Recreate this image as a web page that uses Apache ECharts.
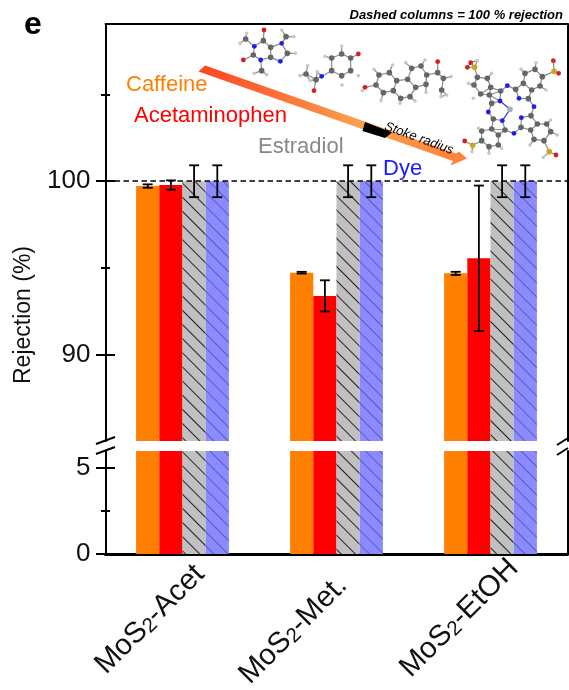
<!DOCTYPE html>
<html><head><meta charset="utf-8">
<script src="https://cdn.jsdelivr.net/npm/echarts@6/dist/echarts.min.js"></script>
<style>html,body{margin:0;padding:0;background:#fff}#c{width:569px;height:690px}</style>
</head><body><div id="c"></div>
<script>
const categories = ['MoS2-Acet', 'MoS2-Met.', 'MoS2-EtOH'];
const caffeine = [99.72, 94.72, 94.68];
const acetaminophen = [99.78, 93.38, 95.55];
const estradiol = [100, 100, 100];
const dye = [100, 100, 100];
const caffeineErr = [0.1, 0.05, 0.09];
const acetaminophenErr = [0.27, 0.9, 4.2];
const estradiolErr = [0.92, 0.92, 0.92];
const dyeErr = [0.92, 0.92, 0.92];
const majorUpper = [90, 100];
const minorUpper = [95, 105];
const majorLower = [0, 5];
const minorLower = [2.5];
const dashedLevel = 100;

const FONT = '"Liberation Sans", Arial, sans-serif';
const BARW = 23.2;
const barDefs = [
  {name: 'Caffeine', values: caffeine, errs: caffeineErr, color: '#ff8000'},
  {name: 'Acetaminophen', values: acetaminophen, errs: acetaminophenErr, color: '#ff0000'},
  {name: 'Estradiol', values: estradiol, errs: estradiolErr, color: '#c0c0c0', decal: '#222222'},
  {name: 'Dye', values: dye, errs: dyeErr, color: '#8b8bff', decal: '#5a5abc'}
];

const grids = [
  {left: 105.5, right: 1.5, top: 24, height: 417, outerBoundsMode: 'none'},
  {left: 105.5, right: 1.5, top: 451, height: 103, outerBoundsMode: 'none'}
];
const xAxes = [
  {gridIndex: 0, type: 'category', data: categories, position: 'top',
   axisLine: {show: true, lineStyle: {color: '#000', width: 2}}, axisTick: {show: false}, axisLabel: {show: false}},
  {gridIndex: 1, type: 'category', data: categories, position: 'bottom',
   axisLine: {show: true, lineStyle: {color: '#000', width: 3}}, axisTick: {show: false},
   axisLabel: {
     rotate: 45, align: 'center', verticalAlign: 'middle', margin: 33, interval: 0,
     formatter: (v, i) => '{n|' + v.replace('2', '}{s|2}{n|') + '}{p' + i + '|}',
     rich: {
       n: {fontFamily: FONT, fontSize: 29.5, color: '#111'},
       s: {fontFamily: FONT, fontSize: 20.5, color: '#111', verticalAlign: 'bottom', lineHeight: 29},
       p0: {width: 92}, p1: {width: 122}, p2: {width: 88}
     }
   }}
];

function yGroup(gridIndex, min, max, major, minor) {
  const base = {gridIndex, type: 'value', min, max, splitLine: {show: false}, position: 'left'};
  const line = {show: true, onZero: false, lineStyle: {color: '#000', width: 2}};
  const tick = (vals, length, inside) => ({show: true, customValues: vals, length, inside, lineStyle: {color: '#000', width: 2}});
  return [
    Object.assign({}, base, {axisLine: line, axisTick: tick(major, 9.5, false),
      axisLabel: {show: true, customValues: major, margin: 15, fontFamily: FONT, fontSize: 26, color: '#111'}}),
    Object.assign({}, base, {axisLine: {show: false}, axisTick: tick(major, 9.5, true), axisLabel: {show: false}}),
    Object.assign({}, base, {axisLine: {show: false}, axisTick: tick(minor, 4.5, false), axisLabel: {show: false}}),
    Object.assign({}, base, {axisLine: {show: false}, axisTick: tick(minor, 4.5, true), axisLabel: {show: false}}),
    Object.assign({}, base, {position: 'right', axisLine: line, axisTick: {show: false}, axisLabel: {show: false}})
  ];
}
const yAxes = yGroup(0, 85, 109.08, majorUpper, minorUpper).concat(yGroup(1, 0, 6, majorLower, minorLower));

const series = [];
[0, 1].forEach(g => {
  barDefs.forEach((d, i) => {
    const s = {
      name: d.name, type: 'bar', xAxisIndex: g, yAxisIndex: g * 5, data: d.values,
      barWidth: BARW, barGap: 0, clip: true,
      itemStyle: {color: d.color}, silent: true
    };
    if (d.decal) s.itemStyle.decal = {symbol: 'rect', symbolSize: 1, dashArrayX: [1, 0], dashArrayY: [0.9, 9], rotation: Math.PI / 4, color: d.decal};
    if (g === 0 && i === 0) s.markLine = {
      silent: true, symbol: 'none', label: {show: false}, animation: false, z: 6,
      lineStyle: {color: '#000', type: [5.5, 3.5], width: 1.5},
      data: [{yAxis: dashedLevel}]
    };
    series.push(s);
  });
});
barDefs.forEach((d, i) => {
  series.push({
    type: 'custom', xAxisIndex: 0, yAxisIndex: 0, silent: true, z: 5, clip: false,
    data: d.values.map((v, k) => [k, v, d.errs[k]]),
    renderItem: (params, api) => {
      const off = (i - 1.5) * BARW;
      const top = api.coord([api.value(0), api.value(1) + api.value(2)]);
      const bot = api.coord([api.value(0), api.value(1) - api.value(2)]);
      const x = top[0] + off, st = {stroke: '#000', lineWidth: 1.8, fill: null};
      const seg = (a, b, c, e) => ({type: 'line', shape: {x1: a, y1: b, x2: c, y2: e}, style: st});
      return {type: 'group', children: [seg(x, top[1], x, bot[1]), seg(x - 5, top[1], x + 5, top[1]), seg(x - 5, bot[1], x + 5, bot[1])]};
    }
  });
});

/* ---- illustration: ball-and-stick molecules ---- */
const ATOM = {C: ['#666666', 2.8], H: ['#c8c8c8', 1.8], N: ['#1e1eee', 2.4], O: ['#d42020', 2.4], S: ['#c8a820', 2.8], Z: ['#a8b0b0', 2.8]};
const caffeineAtoms = 'C100,50 C70,93 C122,70 C122,100 C172,88 C47,45 C95,140 C168,38 N73,67 N92,108 N155,58 N151,112 O102,18 O40,108 H155,18 H192,38 H196,88 H30,58 H50,28 H72,148 H110,152';
const acetaminophenAtoms = 'C305,102 C335,90 C362,102 C362,140 C335,155 C305,140 C258,167 C228,150 N275,157 O252,200 O385,90 H285,97 H335,67 H336,183 H385,155 H233,125 H210,155 H240,170 H262,143';
const estradiolAtoms = 'C63,105 C72,75 C103,68 C125,92 C115,122 C85,128 C158,88 C182,112 C165,140 C137,145 C170,55 C198,48 C215,75 C213,103 C248,68 C265,85 C260,120 O30,112 O248,35 H57,58 H112,45 H78,152 H22,122 H152,38 H210,30 H288,80 H258,140 H275,135 H213,127 H180,153 H135,160';
const dyeAtoms = 'Z150,178 N120,153 N177,145 N184,203 N127,212 N142,107 N222,170 N162,250 N85,186 C122,123 C95,160 C167,118 C205,146 C213,197 C183,232 C135,240 C100,207 C92,112 C82,85 C52,82 C42,105 C62,132 C88,135 C190,100 C195,70 C225,58 C247,80 C240,108 C215,120 C232,222 C260,222 C272,245 C252,272 C222,268 C212,240 C95,237 C65,243 C65,272 C87,290 C115,285 C115,255 S44,52 S282,64 S268,305 S38,286 O32,38 O22,52 O280,32 O296,70 O288,315 O14,273 H52,32 H95,70 H25,100 H40,145 H228,38 H183,57 H258,120 H272,210 H292,255 H250,322 H36,305 H210,285 H125,295 H87,310 H55,235';
function molecule(str, ox, oy, maxBond) {
  const atoms = str.split(' ').map(t => {
    const p = t.slice(1).split(',');
    return {k: t[0], x: ox + p[0] / 3, y: oy + p[1] / 3};
  });
  const out = [];
  atoms.forEach((a, i) => atoms.slice(i + 1).forEach(b => {
    const d = Math.hypot(a.x - b.x, a.y - b.y);
    if (d < ((a.k === 'Z' || b.k === 'Z') ? 14 : (a.k === 'H' || b.k === 'H') ? 8.5 : maxBond)) {
      out.push({type: 'line', z: 20, shape: {x1: a.x, y1: a.y, x2: b.x, y2: b.y},
        style: {stroke: (a.k === 'Z' || b.k === 'Z') ? '#3a3ae0' : '#8a8a8a', lineWidth: 1.2}});
    }
  }));
  atoms.forEach(a => out.push({type: 'circle', z: 21, shape: {cx: a.x, cy: a.y, r: ATOM[a.k][1]}, style: {fill: ATOM[a.k][0]}}));
  return out;
}
const label = (text, x, y, size, color, extra) => ({type: 'text', z: 30, x, y,
  style: Object.assign({text, fontFamily: FONT, fontSize: size, fill: color, align: 'left', verticalAlign: 'middle'}, extra || {})});
const seg = (x1, y1, x2, y2) => ({type: 'line', z: 25, shape: {x1, y1, x2, y2}, style: {stroke: '#000', lineWidth: 2}});

const graphicEls = [].concat(
  molecule(caffeineAtoms, 230, 24, 14),
  molecule(acetaminophenAtoms, 230, 24, 14),
  molecule(estradiolAtoms, 355, 50, 14),
  molecule(dyeAtoms, 460, 50, 13.5),
  [
    {type: 'polygon', z: 22, shape: {points: [[205, 65.5], [456, 153.5], [459, 151.5], [467, 158.5], [450.5, 165.5], [453, 161], [198.5, 71.5]]},
     style: {fill: new echarts.graphic.LinearGradient(199, 68, 467, 158, [
       {offset: 0, color: '#ff4422'}, {offset: 0.6, color: '#f9a04e'}, {offset: 1, color: '#ff8038'}], true)}},
    {type: 'polygon', z: 23, shape: {points: [[365, 122], [392, 132.5], [385, 138], [362.5, 131]]}, style: {fill: '#000'}},
    label('Stoke radius', 385, 126, 13, '#000', {fontStyle: 'italic', align: 'left'}),
    label('Caffeine', 126, 85, 22, '#ff8000'),
    label('Acetaminophen', 134, 116, 22, '#ff0000'),
    label('Estradiol', 258, 147, 22, '#888888'),
    label('Dye', 383, 169, 22, '#1a1aff'),
    label('e', 24, 25, 32, '#000', {fontWeight: 'bold'}),
    label('Dashed columns = 100 % rejection', 563, 15, 13, '#000', {fontWeight: 'bold', fontStyle: 'italic', align: 'right'}),
    seg(96, 444, 115, 437), seg(96, 454, 115, 447),
    seg(557, 445, 568, 438), seg(557, 455, 568, 448)
  ]
);
graphicEls.forEach(e => { if (e.style && e.style.text === 'Stoke radius') { e.rotation = -0.35; } });
graphicEls.push({type: 'text', z: 30, x: 24, y: 315, rotation: Math.PI / 2,
  style: {text: 'Rejection (%)', fontFamily: FONT, fontSize: 23, fill: '#111', align: 'center', verticalAlign: 'middle'}});

const chart = echarts.init(document.getElementById('c'));
chart.setOption({
  animation: false, backgroundColor: '#fff',
  grid: grids, xAxis: xAxes, yAxis: yAxes, series,
  graphic: {elements: graphicEls}
});
</script></body></html>
